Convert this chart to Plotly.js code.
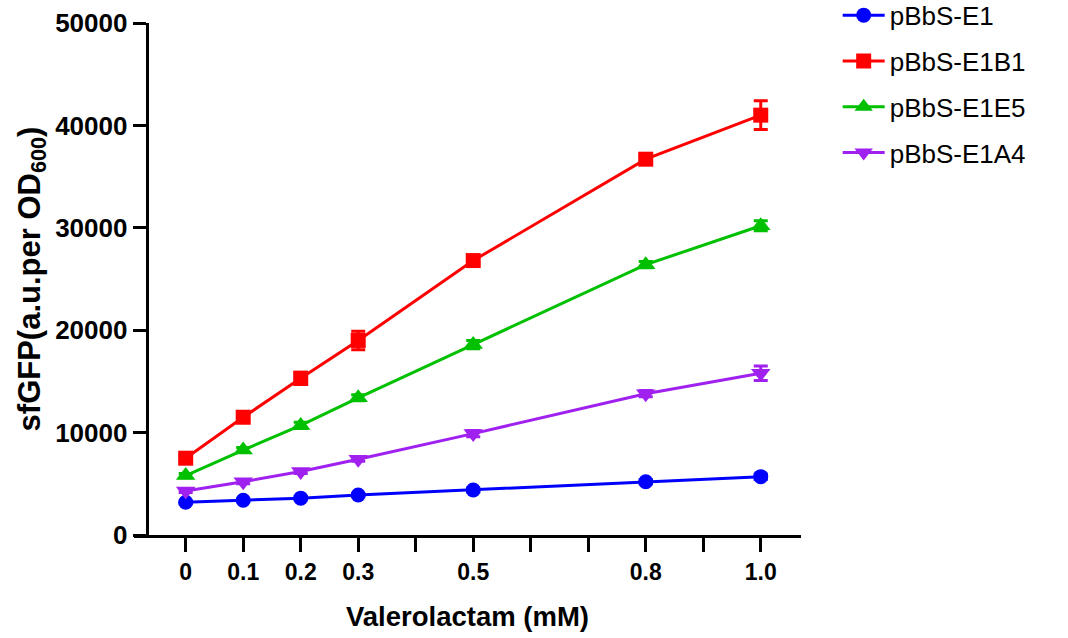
<!DOCTYPE html>
<html>
<head>
<meta charset="utf-8">
<script src="https://cdn.plot.ly/plotly-3.0.1.min.js"></script>
<style>html,body{margin:0;padding:0;background:#fff;}#chart{width:1068px;height:638px;}</style>
</head>
<body>
<div id="chart"></div>
<script>
const xValues = [0, 0.1, 0.2, 0.3, 0.5, 0.8, 1.0];
const seriesNames = ["pBbS-E1", "pBbS-E1B1", "pBbS-E1E5", "pBbS-E1A4"];
const e1 = [3200, 3400, 3600, 3900, 4400, 5200, 5700];
const e1Err = [150, 150, 150, 150, 200, 200, 250];
const e1b1 = [7500, 11500, 15300, 19000, 26800, 36700, 41000];
const e1b1Err = [250, 300, 600, 900, 300, 400, 1400];
const e1e5 = [5800, 8300, 10700, 13400, 18600, 26400, 30200];
const e1e5Err = [200, 250, 300, 300, 400, 300, 500];
const e1a4 = [4300, 5200, 6200, 7400, 9900, 13800, 15800];
const e1a4Err = [150, 200, 200, 200, 300, 300, 700];
const tickVals = [0, 0.1, 0.2, 0.3, 0.5, 0.8, 1.0];
const tickText = ["0", "0.1", "0.2", "0.3", "0.5", "0.8", "1.0"];
const yTickVals = [0, 10000, 20000, 30000, 40000, 50000];
const yTickText = ["0", "10000", "20000", "30000", "40000", "50000"];

const colors = ["#0000FF", "#FF0000", "#00C000", "#A020F0"];
const symbols = ["circle", "square", "triangle-up", "triangle-down"];
const sizes = [15, 15, 17, 17];
const ys = [e1, e1b1, e1e5, e1a4];
const errs = [e1Err, e1b1Err, e1e5Err, e1a4Err];

const traces = ys.map((y, i) => ({
  x: xValues, y: y, name: seriesNames[i], type: "scatter", mode: "lines+markers",
  legendgroup: "g" + i,
  line: {color: colors[i], width: 3},
  marker: {color: colors[i], symbol: symbols[i], size: sizes[i], line: {width: 0}},
  error_y: {type: "data", array: errs[i], visible: true, color: colors[i], thickness: 3, width: 7},
  cliponaxis: false
}));

const font = "Liberation Sans, Arial, sans-serif";
const layout = {
  width: 1068, height: 638,
  margin: {l: 134, r: 267, t: 23, b: 103, autoexpand: false},
  paper_bgcolor: "#fff", plot_bgcolor: "#fff",
  font: {family: font, color: "#000"},
  showlegend: true,
  legend: {x: 1.055, xanchor: "left", y: 1.061, yanchor: "top", itemwidth: 42,
           font: {size: 26, family: font, color: "#000"}, tracegroupgap: 9, bgcolor: "rgba(0,0,0,0)"},
  xaxis: {
    range: [-0.0899, 1.070], tickvals: tickVals, ticktext: tickText,
    showgrid: false, zeroline: false, showline: true, linecolor: "#000", linewidth: 3,
    ticks: "outside", ticklen: 14, tickwidth: 3, tickcolor: "#000",
    minor: {dtick: 0.1, tick0: 0, ticks: "outside", ticklen: 14, tickwidth: 3, tickcolor: "#000", showgrid: false},
    tickfont: {size: 23, family: font, weight: "bold", color: "#000"},
    title: {text: "Valerolactam (mM)", font: {size: 27.5, family: font, weight: "bold", color: "#000"}, standoff: 24}
  },
  yaxis: {
    range: [0, 50000], tickvals: yTickVals, ticktext: yTickText, anchor: "free", position: 0.019,
    showgrid: false, zeroline: false, showline: true, linecolor: "#000", linewidth: 3,
    ticks: "outside", ticklen: 13, tickwidth: 3, tickcolor: "#000",
    tickfont: {size: 26, family: font, weight: "bold", color: "#000"},
    title: {text: "sfGFP(a.u.per OD<sub>600</sub>)", font: {size: 31, family: font, weight: "bold", color: "#000"}, standoff: 4}
  }
};
Plotly.newPlot("chart", traces, layout, {displayModeBar: false, staticPlot: true});
</script>
</body>
</html>
